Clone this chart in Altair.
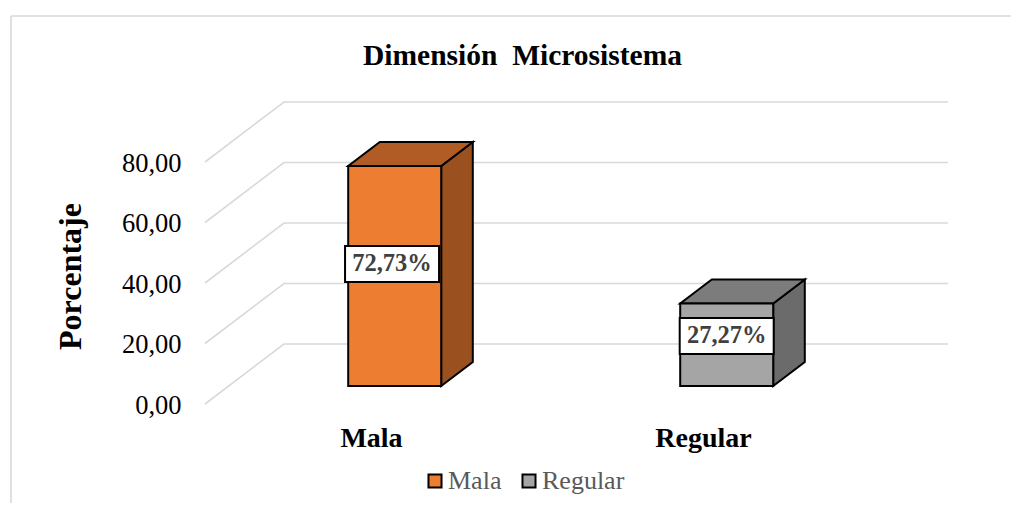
import altair as alt
import pandas as pd

categories = ["Mala", "Regular"]
values = [72.73, 27.27]
value_labels = ["72,73%", "27,27%"]
ticks = [0, 20, 40, 60, 80]
front_colors = ["#ED7D31", "#A5A5A5"]
side_colors = ["#9A511F", "#6B6B6B"]
top_colors = ["#B15C24", "#7C7C7C"]
label_levels = [46.3, 22.5]
label_shift = [-0.008, 0.0]

# pseudo-3D geometry, expressed in scale units
DX = 79 / 332      # horizontal shift of full floor depth, in category units
DY = 60 / 3.025    # vertical shift of full floor depth, in value units
BAR_HALF = 46.5 / 332
D0, D1 = 0.30, 0.70
W, H = 1003, 495
UX0 = -197 / 332
UY_TOP = (404 - 8) / 3.025
UY_BOT = (404 - 8 - H) / 3.025
LW = 2

xs = alt.Scale(domain=[UX0, UX0 + W / 332], range=[0, W], nice=False, zero=False)
ys = alt.Scale(domain=[UY_BOT, UY_TOP], range=[H, 0], nice=False, zero=False)


def px(u, d=0.0):
    return u + DX * d


def py(v, d=0.0):
    return v + DY * d


def X(**kw):
    return alt.X("x:Q", scale=xs, axis=None, **kw)


def Y(**kw):
    return alt.Y("y:Q", scale=ys, axis=None, **kw)


# grid
grid_rows = []
for t in ticks:
    for i, (u, d) in enumerate([(0, 0), (0, 1), (2, 1)]):
        grid_rows.append({"x": px(u, d), "y": py(t, d), "t": t, "i": i})
grid = (
    alt.Chart(pd.DataFrame(grid_rows))
    .mark_line(color="#D9D9D9", strokeWidth=1.6, interpolate="linear")
    .encode(
        x=alt.X(
            "x:Q", scale=xs,
            axis=alt.Axis(
                values=[0.5, 1.5], title=None, domain=False, ticks=False, grid=False,
                orient="bottom", offset=-(H - 416), labelPadding=0, labelBaseline="top",
                labelExpr=f"datum.value < 1 ? '{categories[0]}' : '{categories[1]}'",
                labelFont="Liberation Serif", labelFontSize=28, labelFontWeight="bold",
                labelColor="#000000", labelAngle=0, labelFlush=False, labelOverlap=False,
            ),
        ),
        y=alt.Y(
            "y:Q", scale=ys,
            axis=alt.Axis(
                values=ticks, title="Porcentaje", domain=False, ticks=False, grid=False,
                orient="left", offset=-173, labelPadding=0, labelAlign="right", labelOffset=1,
                labelExpr="replace(format(datum.value, '.2f'), '.', ',')",
                labelFont="Liberation Serif", labelFontSize=26.5, labelColor="#000000",
                labelOverlap=False, labelFlush=False,
                titleFont="Liberation Serif", titleFontSize=32, titleFontWeight="bold",
                titleColor="#000000", titleX=-111, titleY=268, titleAngle=270,
                titleAlign="center", titleBaseline="middle",
            ),
        ),
        detail="t:N",
        order="i:Q",
    )
)

# frame
frame_top = alt.Chart(pd.DataFrame({"a": [0]})).mark_rule(color="#D9D9D9", strokeWidth=1.6).encode(
    x=alt.value(3), x2=alt.value(W), y=alt.value(8))
frame_left = alt.Chart(pd.DataFrame({"a": [0]})).mark_rule(color="#D9D9D9", strokeWidth=1.6).encode(
    x=alt.value(3), y=alt.value(8), y2=alt.value(H))

front, side, top, boxes = [], [], [], []
for k, (c, v) in enumerate(zip(categories, values)):
    u = k + 0.5
    x0, x1 = u - BAR_HALF, u + BAR_HALF
    front.append({"cat": c, "x": px(x0, D0), "x2": px(x1, D0), "y": py(0, D0), "y2": py(v, D0)})
    for d in (D0, D1):
        side.append({"cat": c, "x": px(x1, d), "y": py(0, d), "y2": py(v, d)})
    # roof: lower and upper edge of the parallelogram as x runs left to right
    top += [
        {"cat": c, "x": px(x0, D0), "y": py(v, D0), "y2": py(v, D0)},
        {"cat": c, "x": px(x0, D1), "y": py(v, D0), "y2": py(v, D1)},
        {"cat": c, "x": px(x1, D0), "y": py(v, D0), "y2": py(v, D1)},
        {"cat": c, "x": px(x1, D1), "y": py(v, D1), "y2": py(v, D1)},
    ]
    cx = px(u, D0) + label_shift[k]
    boxes.append({
        "x": cx - 47 / 332, "x2": cx + 47 / 332, "xc": cx,
        "y": label_levels[k] - 18 / 3.025, "y2": label_levels[k] + 18 / 3.025,
        "yc": label_levels[k], "txt": value_labels[k],
    })

side_layer = (
    alt.Chart(pd.DataFrame(side))
    .mark_area(stroke="#000000", strokeWidth=LW, interpolate="linear", opacity=1)
    .encode(
        x=X(), y=Y(), y2="y2:Q", detail="cat:N",
        fill=alt.Fill("cat:N", scale=alt.Scale(domain=categories, range=side_colors), legend=None),
    )
)
top_layer = (
    alt.Chart(pd.DataFrame(top))
    .mark_area(stroke="#000000", strokeWidth=LW, interpolate="linear", opacity=1)
    .encode(
        x=X(), y=Y(), y2="y2:Q", detail="cat:N",
        fill=alt.Fill("cat:N", scale=alt.Scale(domain=categories, range=top_colors), legend=None),
    )
)
front_layer = (
    alt.Chart(pd.DataFrame(front))
    .mark_rect(stroke="#000000", strokeWidth=LW)
    .encode(
        x=X(), x2="x2:Q", y=Y(), y2="y2:Q",
        color=alt.Color(
            "cat:N",
            scale=alt.Scale(domain=categories, range=front_colors),
            legend=alt.Legend(
                title=None, orient="none", direction="horizontal",
                legendX=414, legendY=460, symbolType="square", symbolSize=170,
                symbolStrokeColor="#000000", symbolStrokeWidth=LW,
                labelFont="Liberation Serif", labelFontSize=26, labelColor="#595959",
                labelOffset=0, columnPadding=14, symbolOpacity=1,
            ),
        ),
    )
)
box_df = pd.DataFrame(boxes)
box_layer = (
    alt.Chart(box_df)
    .mark_rect(fill="#FFFFFF", stroke="#000000", strokeWidth=LW)
    .encode(x=X(), x2="x2:Q", y=Y(), y2="y2:Q")
)
box_text = (
    alt.Chart(box_df)
    .mark_text(font="Liberation Serif", fontSize=24.5, fontWeight="bold", color="#404040",
               align="center", baseline="middle")
    .encode(x=alt.X("xc:Q", scale=xs, axis=None), y=alt.Y("yc:Q", scale=ys, axis=None), text="txt:N")
)

chart = (
    alt.layer(frame_top, frame_left, grid, side_layer, top_layer, front_layer, box_layer, box_text)
    .resolve_scale(color="independent", fill="independent")
    .resolve_axis(x="independent", y="independent")
    .properties(
        width=W, height=H, padding=0, autosize=alt.AutoSizeParams(type="none"), background="#FFFFFF",
        title=alt.TitleParams(
            "Dimensión\u00a0 Microsistema", font="Liberation Serif", fontSize=29.5, fontWeight="bold",
            color="#000000", anchor="middle", frame="group", offset=0, dx=13, dy=86, baseline="alphabetic",
        ),
    )
    .configure_view(stroke=None)
)

chart.save("out.html", embed_options={"renderer": "svg", "actions": False})
